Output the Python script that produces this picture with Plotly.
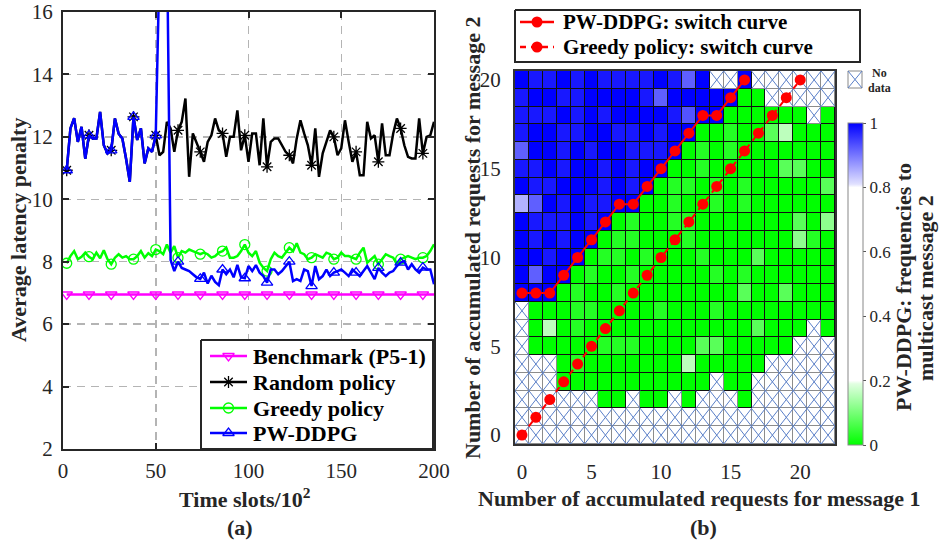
import plotly.graph_objects as go

W, H = 940, 544
FONT = "Liberation Serif"
def px(x): return x / W
def py(y): return 1 - y / H

# ---------------- Panel (a) data ----------------
time_slots = list(range(2, 201, 2))  # time slots / 10^2

random_policy = [
    10.93, 12.27, 12.6, 11.84, 12.32, 11.3, 12.05, 11.95, 11.95, 12.8,
    11.73, 11.47, 11.57, 12.59, 12.1, 11.95, 11.3, 10.56, 12.64, 11.9,
    12.27, 11.15, 11.63, 11.52, 12.05,
    11.41, 11.52, 12.48, 12.27, 11.52, 12.21, 12.48, 13.23, 10.72, 12.11,
    11.84, 11.52, 11.2, 11.84, 12.05, 12.59, 12.21, 12.11, 11.36, 12.0,
    12.0, 12.85, 11.57, 12.05, 11.2, 12.11, 12.11, 11.09, 12.59, 11.04,
    11.84, 11.95, 11.95, 11.73, 11.52, 11.41, 11.15, 11.95, 12.53, 12.11,
    11.73, 11.09, 12.27, 10.72, 11.47, 11.84, 12.21, 12.0, 11.41, 11.63,
    12.53, 11.84, 11.2, 11.52, 10.77, 10.77, 12.48, 11.95, 12.05, 11.2,
    12.43, 11.41, 11.41, 12.11, 12.59, 12.27, 11.73, 11.36, 11.31, 11.31,
    12.59, 11.47, 12.0, 12.05, 12.48,
]

greedy_policy = [
    7.95, 8.18, 8.34, 8.08, 8.16, 8.29, 8.16, 8.08, 8.29, 8.11,
    8.37, 8.08, 7.92, 8.13, 8.24, 8.13, 8.18, 8.08, 8.08, 8.18,
    8.34, 8.13, 8.27, 8.18, 8.39, 8.34, 8.24, 8.55, 8.29, 8.5,
    8.13, 8.34, 8.29, 8.39, 8.34, 8.29, 8.24, 8.29, 8.24, 8.13,
    8.18, 8.29, 8.34, 8.45, 8.13, 8.13, 8.18, 8.34, 8.55, 8.29,
    8.18, 8.34, 7.97, 7.81, 7.7, 8.08, 8.29, 8.18, 8.13, 8.29,
    8.45, 8.34, 8.59, 8.29, 8.24, 8.08, 8.13, 8.24, 8.18, 8.13,
    8.29, 8.24, 8.08, 8.13, 8.29, 8.18, 8.18, 8.13, 8.08, 8.29,
    8.45, 7.97, 8.08, 8.18, 7.92, 8.08, 8.24, 8.18, 8.13, 7.92,
    8.08, 8.13, 8.18, 8.13, 8.08, 8.13, 8.13, 8.18, 8.34, 8.56,
]

pw_ddpg = [
    10.93, 12.27, 12.6, 11.84, 12.32, 11.3, 12.05, 11.95, 11.95, 12.8,
    11.73, 11.47, 11.57, 12.59, 12.1, 11.95, 11.3, 10.56, 12.64, 11.9,
    12.27, 11.15, 11.63, 11.52, 12.05,
    17.5, 19.0, 18.6,
    8.05, 7.7, 8.0, 7.8, 7.75, 7.7, 7.6, 7.5, 7.45, 7.65, 7.3,
    7.55, 7.35, 7.25, 7.75, 7.6, 7.75, 7.5, 7.9, 7.5, 7.47, 7.86,
    7.7, 7.89, 7.65, 7.54, 7.33, 7.75, 7.75, 7.6, 7.7, 7.86,
    8.0, 7.38, 7.44, 7.38, 7.75, 7.7, 7.22, 7.86, 7.44, 7.54,
    7.75, 7.54, 7.65, 7.7, 7.75, 7.65, 7.54, 7.75, 7.65, 7.54,
    7.7, 7.86, 7.65, 7.44, 7.8, 7.65, 7.54, 7.65, 7.7, 7.86,
    7.97, 8.02, 7.75, 7.92, 7.75, 7.65, 7.81, 7.75, 7.75, 7.28,
]

benchmark_level = 6.95
benchmark = [benchmark_level] * len(time_slots)
marker_step = 6  # a marker every 6th sample

assert len(random_policy) == len(time_slots)
assert len(greedy_policy) == len(time_slots)
assert len(pw_ddpg) == len(time_slots)

series_a = [
    ("Benchmark (P5-1)", benchmark, "#ff00ff", "triangle-down-open"),
    ("Random policy", random_policy, "#000000", "asterisk-open"),
    ("Greedy policy", greedy_policy, "#00ff00", "circle-open"),
    ("PW-DDPG", pw_ddpg, "#0000ff", "triangle-up-open"),
]

# ---------------- Panel (b) data ----------------
msg1_requests = list(range(23))  # x
msg2_requests = list(range(21))  # y
N = None
# rows listed from y = 20 down to y = 0 ; values = frequency of multicasting message 2
freq_rows_top_down = [
    [1, .98, .98, 1, .98, 1, .98, .98, .98, .98, 1, .98, .92, 1, N, N, 1, N, N, N, N, N, N],
    [.98, 1, 1, .98, .98, 1, 1, 1, 1, .98, .92, 1, 1, 1, 1, 1, 0, 0, N, N, N, N, N],
    [.98, .98, .98, 1, .98, 1, .98, 1, 1, 1, 1, .98, .93, 1, 1, 0, 0, 0, 0, 0, 0, N, 0],
    [.98, 1, 1, .98, .98, 1, 1, .98, .98, 1, .98, 1, 1, 0, 0, .03, 0, 0, .075, .16, 0, 0, 0],
    [.92, 1, 1, .98, 1, .98, 1, 1, .98, .98, .98, 1, 0, .03, 0, .03, 0, 0, 0, 0, 0, 0, 0],
    [.98, .98, 1, .98, 1, 1, .98, 1, .98, 1, 1, 0, 0, .03, 0, 0, 0, 0, 0, .075, .075, 0, 0],
    [1, .98, .98, 1, 1, 1, .98, 1, .98, 1, 0, .03, .03, 0, .03, 0, .03, 0, 0, 0, 0, 0, .075],
    [.85, .92, 1, .98, 1, .98, .98, 1, 1, 0, 0, .03, 0, 0, .03, 0, .03, 0, 0, 0, 0, 0, 0],
    [1, .98, .98, .98, 1, .98, 1, 0, .03, 0, 0, .03, .03, 0, 0, 0, 0, 0, 0, 0, .075, 0, .12],
    [1, .98, 1, .98, 1, 1, 0, .03, .03, 0, 0, 0, .03, 0, 0, 0, 0, 0, 0, 0, .12, .03, 0],
    [1, 1, .98, 1, 1, 0, .03, .03, 0, .03, 0, 0, 0, .03, 0, 0, 0, .075, 0, 0, 0, 0, 0],
    [1, .92, 1, 1, 0, .03, 0, 0, .03, 0, 0, 0, 0, 0, .03, 0, .03, 0, 0, 0, 0, 0, 0],
    [1, 1, 1, 0, .03, 0, 0, .03, 0, 0, 0, 0, 0, 0, 0, 0, .075, 0, 0, .075, 0, 0, 0],
    [N, 0, 0, 0, .03, .03, 0, 0, 0, 0, .03, 0, 0, 0, .03, 0, 0, 0, 0, 0, 0, 0, 0],
    [N, 0, .16, 0, .03, 0, 0, 0, 0, 0, 0, 0, 0, 0, 0, 0, 0, .075, 0, 0, 0, N, 0],
    [N, 0, 0, 0, 0, 0, .03, .03, .03, 0, 0, 0, 0, .075, .075, 0, 0, 0, 0, 0, N, N, N],
    [N, N, N, 0, .03, 0, 0, 0, 0, 0, 0, 0, .16, 0, 0, 0, 0, 0, N, N, N, N, N],
    [N, N, N, 0, 0, 0, 0, 0, 0, 0, 0, 0, 0, 0, N, 0, 0, N, N, N, N, N, N],
    [N, N, N, N, N, N, 0, 0, N, 0, 0, N, 0, N, N, N, 0, N, N, N, N, N, N],
    [N, N, N, N, N, N, N, N, N, N, N, N, N, N, N, N, N, N, N, N, N, N, N],
    [N, N, N, N, N, N, N, N, N, N, N, N, N, N, N, N, N, N, N, N, N, N, N],
]
freq = freq_rows_top_down[::-1]  # index by y
for r in freq:
    assert len(r) == len(msg1_requests)
assert len(freq) == len(msg2_requests)

pw_switch_x = list(range(17))
pw_switch_y = [8, 8, 8, 9, 10, 11, 12, 13, 13, 14, 15, 16, 17, 18, 18, 19, 20]
greedy_switch_x = list(range(21))
greedy_switch_y = list(range(21))

series_b = [
    ("PW-DDPG: switch curve", pw_switch_x, pw_switch_y, "solid"),
    ("Greedy policy: switch curve", greedy_switch_x, greedy_switch_y, "6px,5px"),
]

RED = "#ff0000"

# ---------------- Figure ----------------
fig = go.Figure()

for name, vals, col, sym in series_a:
    fig.add_trace(go.Scatter(
        x=time_slots, y=vals, mode="lines", showlegend=False,
        line=dict(color=col, width=2.5), xaxis="x", yaxis="y", hoverinfo="skip"))
    fig.add_trace(go.Scatter(
        x=time_slots[::marker_step], y=vals[::marker_step], mode="markers", showlegend=False,
        marker=dict(symbol=sym, size=10, color=col, line=dict(color=col, width=1.3)),
        xaxis="x", yaxis="y", hoverinfo="skip"))

# panel (b) : no-data cells (gray borders, white cells)
mask = [[1 if v is None else None for v in row] for row in freq]
fig.add_trace(go.Heatmap(
    x=msg1_requests, y=msg2_requests, z=mask, zmin=0, zmax=1,
    colorscale=[[0, "#8c8c8c"], [1, "#8c8c8c"]], showscale=False,
    xaxis="x2", yaxis="y2", hoverinfo="skip"))
fig.add_trace(go.Heatmap(
    x=msg1_requests, y=msg2_requests, z=mask, zmin=0, zmax=1,
    colorscale=[[0, "white"], [1, "white"]], showscale=False, xgap=1, ygap=1,
    xaxis="x2", yaxis="y2", hoverinfo="skip"))

colorscale = [
    [0.0, "rgb(0,255,0)"], [0.19, "rgb(225,255,225)"], [0.2, "rgb(255,255,255)"],
    [0.8, "rgb(255,255,255)"], [0.81, "rgb(225,225,255)"], [1.0, "rgb(0,0,255)"],
]
fig.add_trace(go.Heatmap(
    x=msg1_requests, y=msg2_requests, z=freq, zmin=0, zmax=1,
    colorscale=colorscale, xgap=1, ygap=1, xaxis="x2", yaxis="y2",
    hoverongaps=False,
    colorbar=dict(
        x=px(848), xanchor="left", y=py(284), yanchor="middle",
        len=322 / H, lenmode="fraction", thickness=15, xpad=0, ypad=0,
        outlinecolor="#888", outlinewidth=1,
        tickvals=[0, 0.2, 0.4, 0.6, 0.8, 1], ticktext=["0", "0.2", "0.4", "0.6", "0.8", "1"],
        ticks="outside", ticklen=3, tickcolor="#555",
        tickfont=dict(family=FONT, size=17, color="#262626"),
    )))

# crosses on no-data cells
cx, cy = [], []
for j, row in enumerate(freq):
    for i, v in enumerate(row):
        if v is None:
            x = msg1_requests[i]; y = msg2_requests[j]
            cx += [x - 0.5, x + 0.5, None, x - 0.5, x + 0.5, None]
            cy += [y - 0.5, y + 0.5, None, y + 0.5, y - 0.5, None]
fig.add_trace(go.Scatter(x=cx, y=cy, mode="lines", line=dict(color="#5a7fc8", width=1),
                         showlegend=False, xaxis="x2", yaxis="y2", hoverinfo="skip"))

for name, sx, sy, dash in series_b:
    fig.add_trace(go.Scatter(
        x=sx, y=sy, mode="lines+markers", showlegend=False,
        line=dict(color=RED, width=2, dash=dash), marker=dict(color=RED, size=11),
        xaxis="x2", yaxis="y2", hoverinfo="skip"))

# ---------------- hand-built legends (overlay in page pixels) ----------------
annotations = []

def legend_box(x0, x1, y0, y1):
    fig.add_trace(go.Scatter(
        x=[x0, x1, x1, x0, x0], y=[y0, y0, y1, y1, y0], mode="lines", fill="toself",
        fillcolor="white", line=dict(color="#262626", width=2),
        showlegend=False, xaxis="x3", yaxis="y3", hoverinfo="skip"))

def legend_key(xs0, xs1, yc, text, col, dash, msym, msize, text_x, fsize):
    fig.add_trace(go.Scatter(
        x=[xs0, xs1], y=[yc, yc], mode="lines", line=dict(color=col, width=2.5, dash=dash),
        showlegend=False, xaxis="x3", yaxis="y3", hoverinfo="skip"))
    filled = not msym.endswith("open")
    fig.add_trace(go.Scatter(
        x=[(xs0 + xs1) / 2], y=[yc], mode="markers",
        marker=dict(symbol=msym, size=msize, color=col, line=dict(color=col, width=1.3 if not filled else 0)),
        showlegend=False, xaxis="x3", yaxis="y3", hoverinfo="skip"))
    annotations.append(dict(text=f"<b>{text}</b>", x=px(text_x), y=py(yc), xref="paper", yref="paper",
                            xanchor="left", yanchor="middle", showarrow=False,
                            font=dict(family=FONT, size=fsize, color="black")))

legend_box(201, 433, 340, 449)
for (name, vals, col, sym), yc in zip(series_a, [356, 382, 408, 433]):
    legend_key(210, 247, yc, name, col, "solid", sym, 10, 251, 22)

legend_box(515, 860, 10, 62)
for (name, sx, sy, dash), yc in zip(series_b, [22, 47]):
    legend_key(520, 554, yc, name, RED, dash, "circle", 11, 561, 21)

tickfont = dict(family=FONT, size=21, color="#262626")
ann_font = dict(family=FONT, size=22, color="#262626")

def ann(text, x, y, angle=0, font=ann_font):
    return dict(text=text, x=px(x), y=py(y), xref="paper", yref="paper",
                xanchor="center", yanchor="middle", textangle=angle,
                showarrow=False, font=font)

annotations += [
    ann("<b>Average latency penalty</b>", 18, 230, -90),
    ann("<b>Time slots/10<sup>2</sup></b>", 245, 498),
    ann("<b>(a)</b>", 240, 527),
    ann("<b>Number of accumulated requests for message 1</b>", 699, 498),
    ann("<b>(b)</b>", 703, 527),
    ann("<b>Number of accumulated requests for message 2</b>", 472, 238, -90),
    ann("<b>PW-DDPG: frequencies to</b>", 903, 287, -90),
    ann("<b>multicast message 2</b>", 925, 288, -90),
    ann("<b>No</b>", 879, 73, 0, dict(family=FONT, size=12, color="#262626")),
    ann("<b>data</b>", 879, 88, 0, dict(family=FONT, size=12, color="#262626")),
]

fig.update_layout(
    width=W, height=H, template="none",
    margin=dict(l=0, r=0, t=0, b=0),
    paper_bgcolor="white", plot_bgcolor="rgba(0,0,0,0)",
    font=dict(family=FONT, color="black"),
    showlegend=False,
    xaxis=dict(domain=[px(63), px(434)], range=[0, 200], tickvals=[0, 50, 100, 150, 200],
               anchor="y", showline=True, linewidth=2, linecolor="#262626", mirror="ticks",
               ticks="inside", ticklen=6, tickwidth=2, tickcolor="#262626",
               showgrid=True, gridcolor="#b4b4b4", gridwidth=1.5, griddash="8px,6px",
               zeroline=False, tickfont=tickfont, automargin=False, ticklabelstandoff=2),
    yaxis=dict(domain=[py(449), py(12)], range=[2, 16], tickvals=[2, 4, 6, 8, 10, 12, 14, 16],
               anchor="x", showline=True, linewidth=2, linecolor="#262626", mirror="ticks",
               ticks="inside", ticklen=6, tickwidth=2, tickcolor="#262626",
               showgrid=True, gridcolor="#b4b4b4", gridwidth=1.5, griddash="8px,6px",
               zeroline=False, tickfont=tickfont, automargin=False, ticklabelstandoff=4),
    xaxis2=dict(domain=[px(515), px(835)], range=[-0.5, 22.5], tickvals=[0, 5, 10, 15, 20],
                anchor="y2", showline=True, linewidth=2, linecolor="#333", mirror=True,
                ticks="", showgrid=False, zeroline=False, tickfont=tickfont,
                automargin=False, ticklabelstandoff=8),
    yaxis2=dict(domain=[py(444), py(71)], range=[-0.5, 20.5], tickvals=[0, 5, 10, 15, 20],
                anchor="x2", showline=True, linewidth=2, linecolor="#333", mirror=True,
                ticks="", showgrid=False, zeroline=False, tickfont=tickfont,
                automargin=False, ticklabelstandoff=8),
    xaxis3=dict(domain=[0, 1], range=[0, W], anchor="y3", visible=False, fixedrange=True),
    yaxis3=dict(domain=[0, 1], range=[H, 0], anchor="x3", visible=False, fixedrange=True),
    shapes=[
        dict(type="rect", xref="x2 domain", yref="y2 domain", x0=0, x1=1, y0=0, y1=1,
             fillcolor="#111", line=dict(width=0), layer="below"),
        dict(type="rect", xref="paper", yref="paper", x0=px(848), x1=px(862), y0=py(88), y1=py(71),
             fillcolor="white", line=dict(color="#888", width=1)),
        dict(type="line", xref="paper", yref="paper", x0=px(848), x1=px(862), y0=py(88), y1=py(71),
             line=dict(color="#5a7fc8", width=1)),
        dict(type="line", xref="paper", yref="paper", x0=px(848), x1=px(862), y0=py(71), y1=py(88),
             line=dict(color="#5a7fc8", width=1)),
    ],
    annotations=annotations,
)

fig.write_html("out.html", config={"displayModeBar": False, "staticPlot": True},
               post_script="document.body.style.margin='0px';document.body.style.overflow='hidden';")
